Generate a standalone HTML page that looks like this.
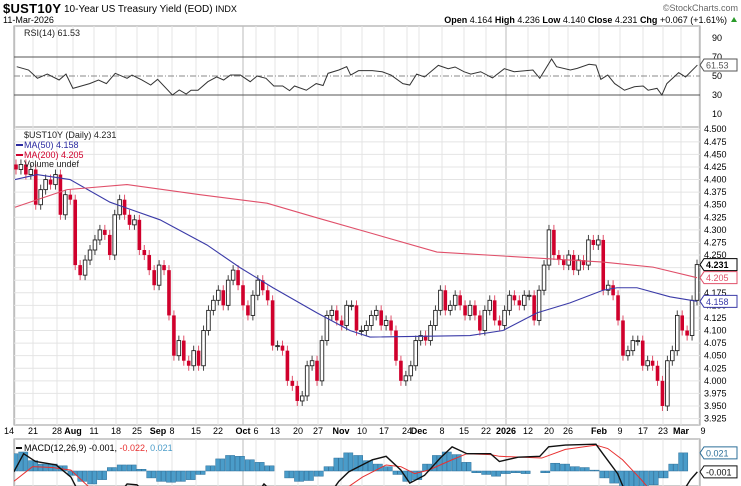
<!DOCTYPE html>
<html><head><meta charset="utf-8"><style>
html,body{margin:0;padding:0;background:#fff;}
svg{display:block;font-family:"Liberation Sans",sans-serif;}
</style></head><body>
<svg id="c" width="741" height="486" viewBox="0 0 741 486" xmlns="http://www.w3.org/2000/svg">
<text x="3" y="13" font-size="13" font-weight="bold" textLength="58">$UST10Y</text>
<text x="64" y="12" font-size="10">10-Year US Treasury Yield (EOD) <tspan font-size="9">INDX</tspan></text>
<text x="3" y="23" font-size="9">11-Mar-2026</text>
<text x="738" y="11" font-size="9" fill="#666" text-anchor="end">©StockCharts.com</text>
<text x="727" y="23" font-size="9" text-anchor="end"><tspan font-weight="bold">Open</tspan> 4.164 <tspan font-weight="bold">High</tspan> 4.236 <tspan font-weight="bold">Low</tspan> 4.140 <tspan font-weight="bold">Close</tspan> 4.231 <tspan font-weight="bold">Chg</tspan> +0.067 (+1.61%)</text>
<polygon points="731,22 737,22 734,17" fill="#2a9a2a"/>
<g id="grid"></g><g id="marks"></g><g id="labels"></g>
</svg>
<script>
const NS="http://www.w3.org/2000/svg";
// ---- data ----
const dateLabels=["14","21","28","Aug","11","18","25","Sep","8","15","22","Oct","6","13","20","27","Nov","10","17","24","Dec","8","15","22","2026","12","20","26","Feb","9","17","23","Mar","9"];
const dateLabelX=[9,33,57,73,94,116,137,158,172,196,218,243,256,275,298,318,341,362,384,407,419,442,464,486,506,528,549,568,599,620,643,663,681,703];
const priceTicks=[4.5,4.475,4.45,4.425,4.4,4.375,4.35,4.325,4.3,4.275,4.25,4.225,4.2,4.175,4.15,4.125,4.1,4.075,4.05,4.025,4.0,3.975,3.95,3.925];
const closes=[4.42,4.43,4.41,4.42,4.35,4.38,4.40,4.39,4.41,4.33,4.37,4.36,4.23,4.21,4.24,4.26,4.28,4.30,4.29,4.25,4.33,4.36,4.33,4.31,4.32,4.26,4.25,4.22,4.19,4.23,4.22,4.13,4.05,4.08,4.04,4.03,4.06,4.03,4.10,4.14,4.16,4.18,4.15,4.20,4.22,4.19,4.15,4.13,4.17,4.20,4.18,4.16,4.07,4.07,4.06,4.00,3.99,3.96,3.97,4.03,4.04,4.00,4.08,4.13,4.14,4.12,4.11,4.15,4.15,4.10,4.10,4.11,
4.13,4.14,4.11,4.12,4.10,4.04,4.00,4.01,4.03,4.08,4.09,4.08,4.11,4.14,4.18,4.14,4.15,4.17,4.15,4.13,4.15,4.13,4.10,4.14,4.16,4.12,4.11,4.14,4.17,4.16,4.15,4.17,4.17,4.12,4.18,4.23,4.30,4.25,4.24,4.23,4.25,4.22,4.24,4.23,4.28,4.27,4.28,4.18,4.19,4.17,4.12,4.05,4.06,4.08,4.08,4.03,4.04,4.03,4.00,3.95,4.04,4.06,4.13,4.10,4.09,4.16,4.231];
const firstOpen=4.43;
const ma50X=[15,37,70,110,160,207,240,273,317,350,370,470,503,537,570,603,617,637,670,697];
const ma50V=[4.40,4.41,4.40,4.355,4.32,4.27,4.225,4.185,4.135,4.10,4.087,4.09,4.10,4.135,4.155,4.18,4.185,4.185,4.167,4.158];
const ma200X=[15,67,127,200,267,317,370,437,537,603,653,697];
const ma200V=[4.345,4.38,4.39,4.37,4.353,4.324,4.294,4.256,4.244,4.236,4.226,4.205];
const rsiX=[17,29,38,48,60,67,74,91,100,108,117,129,134,144,153,160,175,182,189,194,201,211,220,227,234,244,254,261,270,278,287,294,299,311,321,328,333,344,352,356,364,378,388,397,409,416,423,431,445,455,462,471,478,488,500,512,522,541,548,560,565,579,586,598,605,610,617,624,634,644,653,658,667,672,677,689,696,708];
const rsiV=[59.8,56.3,47.6,52,45.8,52,37,42,45.8,42,52.8,47.6,51,45.8,40.5,46.5,30,35.3,31,35,35,44,49,45.8,51,51,44,50,47.6,39.5,39.5,34.6,39.5,35,42,40,52.8,56.3,59.8,51,55.6,55.6,54.5,51,42,40.5,52,49,61.2,57.7,59.5,54.5,52,54.5,48,57.7,54.5,56.3,47.6,67.9,59.8,56.3,58,62.3,61.5,46.5,51,42,35,38.7,39.5,35,37,30,42,53.5,49,61.53];
const histX=[14,24,34,44,54,64,74,84,94,104,114,124,134,144,154,164,174,184,194,204,214,224,234,244,254,264,274,284,294,304,314,324,334,344,354,364,374,384,394,404,414,424,434,444,454,464,474,484,494,504,514,524,534,544,554,564,574,584,594,604,614,624,634,644,654,664,674,684,694];
const histV=[20,22,12,8,8,6,-5,-12,-15,-10,4,7,7,2,-8,-12,-13,-12,-10,-4,6,14,18,17,13,10,6,0,-8,-12,-11,-6,5,15,21,18,12,8,5,-4,-12,-10,8,18,22,19,10,-2,-4,-6,-3,-2,-3,0,-2,9,8,5,4,1,-8,-14,-18,-20,-20,-16,-8,8,21];
const macdX=[14,24,36,57,72,77,90,120,129,139,150,260,268,280,334,344,354,378,392,407,416,431,447,459,474,498,507,526,548,557,574,605,612,627,634,645,690,701,708];
const macdV=[-1,20,11,7,-7,-18,-28,-28,-15,-16,-28,-28,-15,-28,-28,-12,-1,13,17,1,-14,-5,15,28,20,20,11,16,17,28,30,31,20,-3,-22,-30,-30,-10,-1];
const sigX=[14,33,53,72,86,100,340,354,368,392,407,421,435,459,474,498,507,550,574,605,617,632,651,660,670];
const sigV=[-12,5,4,1,-14,-28,-28,-18,-7,7,5,-3,1,13,20,19,17,15,25,30,26,13,-10,-22,-30];
// ---- scales ----
const L=14,R=700;
const py=p=>406+(3.95-p)*503.2;
const ry=v=>57+(70-v)*0.95;
const my=v=>471-v*0.864;
const bx=i=>16+i*(697-16)/(closes.length-1);
const sx=x=>x*0.985;
const svg=document.getElementById('c');
const G=document.getElementById('grid'),M=document.getElementById('marks'),LB=document.getElementById('labels');
function el(tag,attrs,parent){const e=document.createElementNS(NS,tag);for(const k in attrs)e.setAttribute(k,attrs[k]);parent.appendChild(e);return e;}
function txt(x,y,s,attrs,parent){const t=el('text',Object.assign({x:x,y:y,'font-size':9},attrs||{}),parent);t.textContent=s;return t;}
const panels=[[26,127,'rsi-panel'],[127,425,'price-panel'],[439,486,'macd-panel']];
panels.forEach(p=>{const r=el('rect',{x:L,y:p[0],width:R-L,height:p[1]-p[0],fill:'#fff',stroke:'#999','stroke-width':1},G);

});
dateLabelX.forEach((x,i)=>{const gx=Math.max(L+1,Math.min(R-1,x));
[[26,127],[127,425],[439,486]].forEach(p=>{const l=el('line',{x1:gx,x2:gx,y1:p[0],y2:p[1],stroke:(dateLabels[i]=="Oct"||dateLabels[i]=="2026")?'#bbb':'#e4e4e4','stroke-width':1},G);

});
const t=txt(x,434,dateLabels[i],{'text-anchor':'middle','font-weight':isNaN(+dateLabels[i])||dateLabels[i]=="2026"?'bold':'normal'},LB);

});
priceTicks.forEach(p=>{const y=py(p);
if(y>128&&y<424){const l=el('line',{x1:L,x2:R,y1:y,y2:y,stroke:'#e4e4e4'},G);

}
const t=txt(704,y+3,p.toFixed(3),{},LB);

});
[90,70,50,30,10].forEach(v=>{const t=txt(712,ry(v)+3,String(v),{},LB);


if(v!=90&&v!=10){const l=el('line',{x1:L,x2:R,y1:ry(v),y2:ry(v),stroke:v==50?'#888':'#555','stroke-dasharray':v==50?'6,2,1,2':'','stroke-width':1},G);

}});
const rsiPath=el('polyline',{points:rsiX.map((x,i)=>sx(x)+','+ry(rsiV[i])).join(' '),fill:'none',stroke:'#333','stroke-width':1},M);


const cg=el('g',{},M);
closes.forEach((c,i)=>{const o=i?closes[i-1]:firstOpen;const x=bx(i);
const up=c>=o;const top=py(Math.max(o,c)),bot=py(Math.min(o,c));
const col=up?'#222':'#d0002c';
const w=el('line',{x1:x,x2:x,y1:top-5,y2:bot+5,stroke:up?'#444':'#e0506a','stroke-width':1},cg);


const r=el('rect',{x:x-1.8,y:top,width:3.6,height:Math.max(1,bot-top),fill:up?'#fff':'#d0002c',stroke:col,'stroke-width':up?0.9:0},cg);

});
const ma50=el('polyline',{points:ma50X.map((x,i)=>x+','+py(ma50V[i])).join(' '),fill:'none',stroke:'#3b3ba8','stroke-width':1.1},M);


const ma200=el('polyline',{points:ma200X.map((x,i)=>x+','+py(ma200V[i])).join(' '),fill:'none',stroke:'#e0506a','stroke-width':1.1},M);


const clip=el('clipPath',{id:'mc'},svg);el('rect',{x:L,y:440,width:R-L,height:46},clip);
const mg=el('g',{'clip-path':'url(#mc)'},M);
histX.forEach((x,i)=>{const v=histV[i];const y0=my(0),y1=my(v);
[-4.8,0].forEach(off=>{
const r=el('rect',{x:sx(x)+off-0.2,y:Math.min(y0,y1),width:4.4,height:Math.abs(y1-y0),fill:'#4a9cc9',stroke:'#2c6f99','stroke-width':0.5},mg);

});});
const sig=el('polyline',{points:sigX.map((x,i)=>sx(x)+','+my(sigV[i])).join(' '),fill:'none',stroke:'#e83030','stroke-width':1},mg);


const mac=el('polyline',{points:macdX.map((x,i)=>sx(x)+','+my(macdV[i])).join(' '),fill:'none',stroke:'#111','stroke-width':1.4},mg);


function leg(x,y,s,fill,name){const t=txt(x,y,s,{fill:fill,'font-size':9},LB);return t;}
leg(24,36,'RSI(14) 61.53','#222','rsi-legend');
leg(24,138,'$UST10Y (Daily) 4.231','#222','price-legend');
leg(24,148,'MA(50) 4.158','#2a2aa0','ma50-legend');
leg(24,158,'MA(200) 4.205','#d0002c','ma200-legend');
leg(24,167,'Volume undef','#222','volume-legend');
[[148,'#2a2aa0'],[158,'#d0002c']].forEach(a=>{const l=el('line',{x1:16,x2:23,y1:a[0]-3,y2:a[0]-3,stroke:a[1],'stroke-width':2},LB);});
const ml=txt(24,451,'',{},LB);
ml.innerHTML='<tspan>MACD(12,26,9) -0.001, </tspan><tspan fill="#e83030">-0.022, </tspan><tspan fill="#4a9cc9">0.021</tspan>';
const ms=el('line',{x1:16,x2:22,y1:448,y2:448,stroke:'#111','stroke-width':2},LB);
function box(y,s,col,name,bold){const g=el('g',{},LB);
el('path',{d:`M700,${y} l4,-6 h33 v12 h-33 z`,fill:'#fff',stroke:col,'stroke-width':1},g);
txt(706,y+3.5,s,{fill:bold?'#000':col,'font-weight':bold?'bold':'normal'},g);}
box(ry(61.53),'61.53','#555','rsi-value-box',false);
box(py(4.231),'4.231','#000','close-value-box',true);
box(py(4.205),'4.205','#e0506a','ma200-value-box',false);
box(py(4.158),'4.158','#3b3ba8','ma50-value-box',false);
box(my(21),'0.021','#2c6f99','hist-value-box',false);
box(my(-1),'-0.001','#111','macd-value-box',false);
</script>
</body></html>
